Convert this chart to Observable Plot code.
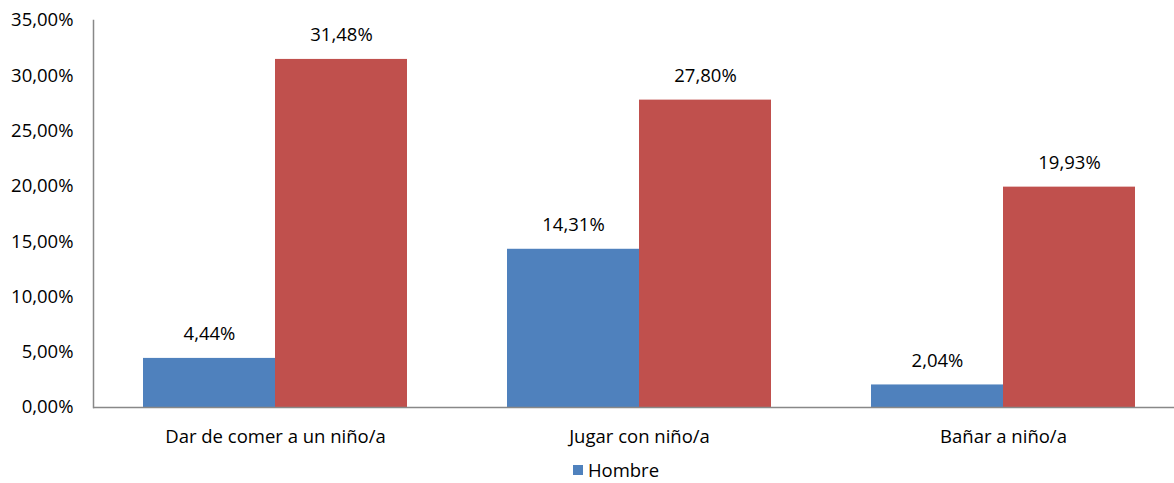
<!DOCTYPE html>
<html><head><meta charset="utf-8">
<script src="https://cdn.jsdelivr.net/npm/d3@7"></script>
<script src="https://cdn.jsdelivr.net/npm/@observablehq/plot@0.6"></script>
<style>
body{margin:0;background:#fff;font-family:"Open Sans",sans-serif;overflow:hidden;}
#legend{display:flex;justify-content:center;align-items:center;font-size:18.5px;color:#000;height:33px;margin-top:3px;padding-left:58px;}
#legend span.sw{display:inline-block;width:10px;height:10px;background:#4F81BD;margin-right:5px;}
</style></head><body>
<div id="chart"></div>
<div id="legend"><span class="sw"></span><span>Hombre</span></div>
<script>
const categories = ["Dar de comer a un niño/a", "Jugar con niño/a", "Bañar a niño/a"];
const series = ["Hombre", "Mujer"];
const hombre = [4.44, 14.31, 2.04];
const mujer = [31.48, 27.80, 19.93];
const yTicks = [0, 5, 10, 15, 20, 25, 30, 35];
const colors = ["#4F81BD", "#C0504D"];

const data = [];
categories.forEach((c, i) => {
  data.push({cat: c, s: series[0], v: hombre[i]});
  data.push({cat: c, s: series[1], v: mujer[i]});
});
const fmt = v => v.toFixed(2).replace(".", ",") + "%";

const chart = Plot.plot({
  width: 1174,
  height: 450,
  marginLeft: 93,
  marginRight: -11,
  marginTop: 20,
  marginBottom: 43,
  style: {fontFamily: "Open Sans, sans-serif", fontSize: "18.5px", color: "#000", overflow: "hidden"},
  fx: {domain: categories, padding: 0, label: null, axis: "bottom", tickSize: 0, tickPadding: 22},
  x: {domain: series, paddingInner: 0, paddingOuter: 0.375, axis: null},
  y: {domain: [0, 35], ticks: yTicks, tickFormat: d => d.toFixed(2).replace(".", ",") + "%", tickSize: 0, tickPadding: 20, label: null},
  color: {domain: series, range: colors},
  marks: [
    Plot.barY(data, {fx: "cat", x: "s", y: "v", fill: "s"}),
    Plot.text(data, {fx: "cat", x: "s", y: "v", text: d => fmt(d.v), dy: -24, fontSize: 18.5, fill: "#000"}),
    Plot.ruleY([0], {stroke: "#888", strokeWidth: 1.5}),
    Plot.frame({anchor: "left", stroke: "#888", strokeWidth: 1.5, facetAnchor: "left"})
  ]
});
document.getElementById("chart").appendChild(chart);
</script>
</body></html>
